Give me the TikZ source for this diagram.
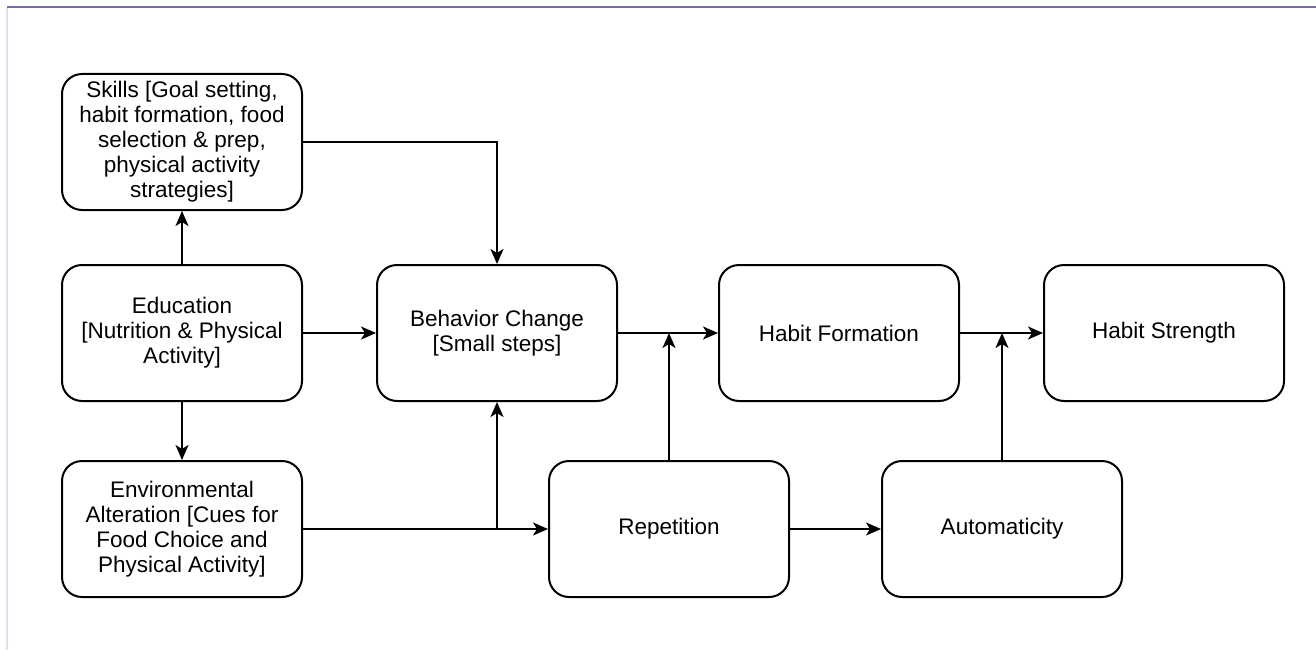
\documentclass[tikz,border=0pt]{standalone}
\usepackage{fontspec}
\setmainfont{Liberation Sans}
\usetikzlibrary{arrows.meta}
\begin{document}
\begin{tikzpicture}[x=1pt,y=-1pt,
  box/.style={draw,line width=2pt,rounded corners=20pt,minimum width=240pt,minimum height=136pt,align=center,font=\fontsize{22.5}{25}\selectfont,inner sep=0pt},
  arr/.style={line width=2pt,-{Stealth[length=15pt,width=13pt,inset=4pt]}}]
\useasboundingbox (0,0) rectangle (1316,650);
\draw[line width=2pt,color={rgb,255:red,123;green,104;blue,166}] (7,7) -- (1316,7);
\draw[line width=1.5pt,color={rgb,255:red,225;green,220;blue,240}] (7,8) -- (7,650);
\node[box] (skills) at (182,142) {Skills [Goal setting,\\habit formation, food\\selection \& prep,\\physical activity\\strategies]};
\node[box] (edu) at (182,333) {Education\\{}[Nutrition \& Physical\\Activity]};
\node[box] (env) at (182,529) {Environmental\\Alteration [Cues for\\Food Choice and\\Physical Activity]};
\node[box] (beh) at (497,333) {Behavior Change\\{}[Small steps]};
\node[box] (hf) at (839,333) {Habit Formation};
\node[box] (hs) at (1164,333) {Habit Strength};
\node[box] (rep) at (669,529) {Repetition};
\node[box] (auto) at (1002,529) {Automaticity};
\draw[arr] (edu.north) -- (skills.south);
\draw[arr] (edu.south) -- (env.north);
\draw[arr] (edu.east) -- (beh.west);
\draw[arr] (skills.east) -| (beh.north);
\draw[arr] (env.east) -- (rep.west);
\coordinate (j1) at (beh.south |- env.east);
\draw[arr] (j1) -- (beh.south);
\draw[arr] (beh.east) -- (hf.west);
\coordinate (j2) at (rep.north |- beh.east);
\draw[arr] (rep.north) -- (j2);
\draw[arr] (hf.east) -- (hs.west);
\coordinate (j3) at (auto.north |- hf.east);
\draw[arr] (auto.north) -- (j3);
\draw[arr] (rep.east) -- (auto.west);
\end{tikzpicture}
\end{document}
